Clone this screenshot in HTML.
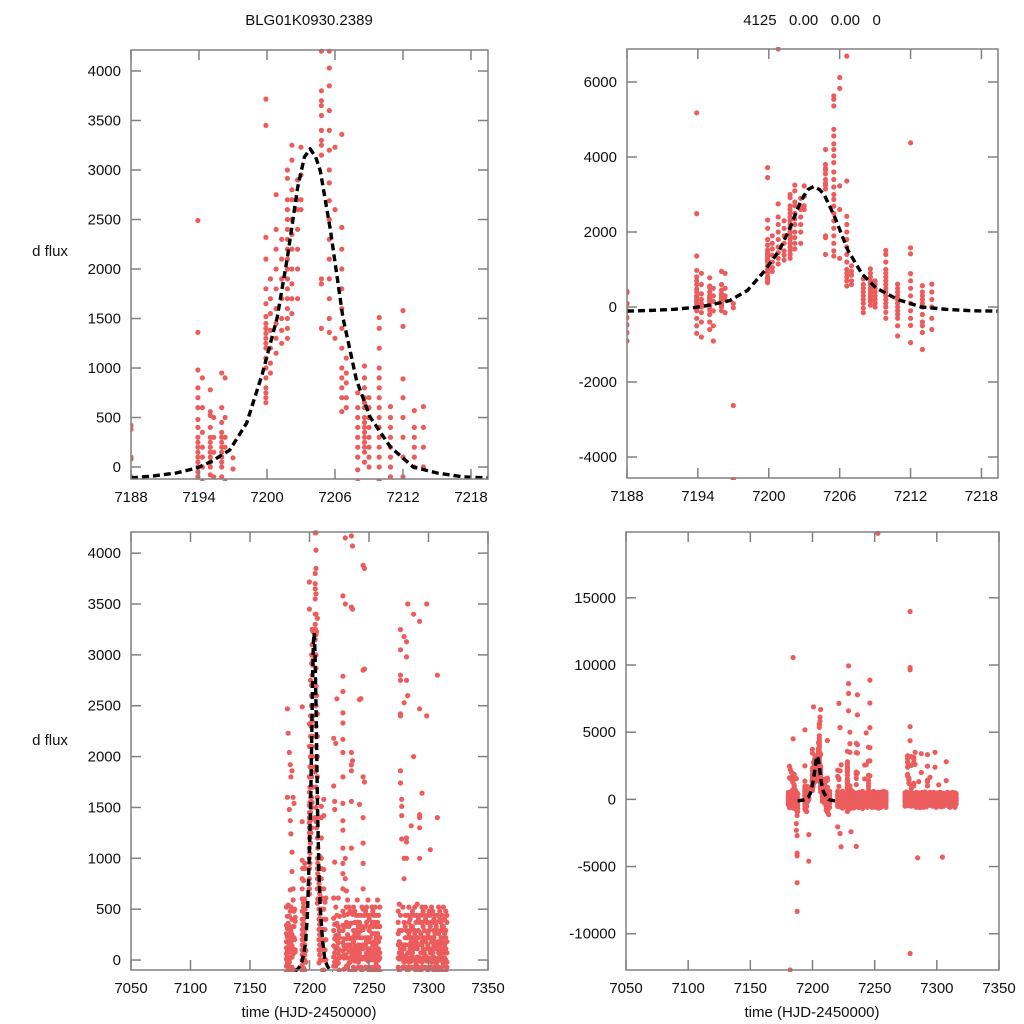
<!DOCTYPE html>
<html><head><meta charset="utf-8"><title>BLG01K0930.2389</title>
<style>
html,body{margin:0;padding:0;background:#fff;width:1024px;height:1024px;overflow:hidden;}
svg{display:block;font-family:"Liberation Sans",Arial,sans-serif;}
</style></head>
<body>
<svg id="chart" width="1024" height="1024" viewBox="0 0 1024 1024" xmlns="http://www.w3.org/2000/svg">
<rect width="1024" height="1024" fill="#fff"/>
<text x="309" y="25" font-size="15" text-anchor="middle" fill="#111">BLG01K0930.2389</text>
<text x="812" y="25" font-size="15" text-anchor="middle" fill="#111" xml:space="preserve">4125   0.00   0.00   0</text>
<text x="50" y="256" font-size="15" text-anchor="middle" fill="#111">d flux</text>
<text x="50" y="745" font-size="15" text-anchor="middle" fill="#111">d flux</text>
<text x="309" y="1017" font-size="15" text-anchor="middle" fill="#111">time (HJD-2450000)</text>
<text x="812" y="1017" font-size="15" text-anchor="middle" fill="#111">time (HJD-2450000)</text>
</svg>
<script>
// ---- data: observations grouped by night [time, [flux values]] ----
const preEventNights = [
 [7180.6,[120,-230,340,-410,60,-120,260,-330,10,520,-60,180]],
 [7181.4,[2470,1600,-140,230,-380,90,430,-620,40,-260,310,-30]],
 [7182.1,[-12700,2230,-70,190,-480,360,-210,540,-40,110,-330,250]],
 [7183.0,[2040,1480,-290,150,430,-560,80,-180,330,-90,210,-20]],
 [7183.9,[1920,1370,-150,220,-410,480,20,-260,140,690,-70,300]],
 [7184.4,[10560,4500,1800,1240,-110,280,-470,170,-220,520,-640,90]],
 [7185.3,[1860,1060,870,-70,250,-330,140,-510,400,30,-190]],
 [7186.2,[1600,700,-220,110,-380,330,-140,210,590,-700,60]],
 [7187.0,[1540,-1800,-2300,-150,220,-450,330,70,-300,480]],
 [7187.6,[-2700,-4000,-4200,-6200,-8340,-1200,-900,-500,200,500]],
 [7188.0,[420,100,381,80,-100,-284,-480,-684,-907]]
];
const eventNights = [
 [7193.9,[5180,2490,1360,980,800,700,600,480,400,300,250,200,150,100,50,0,-50,-100,-300,-500,-700]],
 [7194.3,[900,600,350,200,100,0,-150,-400,-800]],
 [7195.0,[780,560,520,400,300,250,200,150,100,50,0,-80,-200,-400,-600]],
 [7195.3,[500,300,150,-100,-500,-907]],
 [7196.0,[950,600,450,350,300,250,200,150,100,50,0,-100]],
 [7196.3,[900,500,300,200,-150]],
 [7197.0,[93,-20,-2626,-4602]],
 [7199.9,[3716,3450,2320,2100,1800,1650,1520,1450,1400,1350,1300,1250,1200,1100,1000,900,800,750,700,650]],
 [7200.3,[1900,1700,1550,1380,1200,1050,950]],
 [7200.8,[6880,2750,2400,2200,2000,1800,1600,1450,1300,1150]],
 [7201.3,[2300,2100,1900,1700,1500,1380,1250]],
 [7201.8,[3000,2916,2700,2600,2500,2400,2300,2200,2100,2000,1900,1800,1700,1600,1500,1400,1300]],
 [7202.2,[3250,3100,2800,2700,2500,2350,2200,2000,1850,1700,1550]],
 [7202.7,[2900,2700,2600,2400,2200,2000,1700]],
 [7203.0,[3230,2950,2700,2600]],
 [7204.8,[4200,3800,3700,3650,3550,3400,3300,3250,3150,1900,1850,1400]],
 [7205.5,[5630,5540,5360,4740,4560,4350,4200,4030,3850,3600,3400,3200,3000,2870,2690,2500,2300,2100,1900,1700,1500,1360]],
 [7206.0,[6120,5830,3230,2600,1300]],
 [7206.6,[6690,3360,2420,2200,2000,1800,1600,1400,1200,1000,900,800,700,560]],
 [7207.0,[1100,950,850,700,600]],
 [7208.0,[750,600,500,400,300,200,100,-28,-150]],
 [7208.6,[1020,900,800,700,650,600,500,450,400,350,300,250,200,150,50]],
 [7209.0,[700,600,500,400,300,200,100,0]],
 [7209.9,[1510,1400,1200,1000,900,800,700,600,500,400,300,200,100,0,-140,-300]],
 [7210.9,[610,500,400,300,200,100,0,-100,-200,-300,-500,-773]],
 [7212.0,[4380,1580,1420,890,700,500,300,100,-100,-300,-490,-950]],
 [7213.0,[570,400,300,200,100,0,-200,-400,-500,-680,-1130]],
 [7213.8,[610,400,200,0,-300,-600]]
];
const seasonNightsA = [
 [7220.3,[2180,1711,-2040,410,-230,140,-520,290,-60,610,-350,30]],
 [7221.2,[7140,1560,1480,963,-150,210,-430,70,350,-280,-20]],
 [7222.1,[5350,2130,-2540,-60,240,-390,520,-170,110,-260]],
 [7223.0,[2568,-3530,360,-210,130,-580,440,10,-320,190]],
 [7224.2,[610,-140,250,-470,60,330,-250,-660,170,-30]],
 [7225.1,[-350,430,-100,220,-520,100,290,-210,20]],
 [7228.1,[3580,2790,2640,2430,2330,2170,2040,1800,1540,1370,1277,1100,950,850,700,480,290,90,-150,-380,-620,-900,340,-240,40,170]],
 [7229.0,[9940,8620,7880,6590,-290,210,440,-510,20,140,-90]],
 [7230.1,[4150,3500,5000,1000,800,-220,330,-450,110,-690,50]],
 [7231.0,[-2410,520,-140,210,-360,370,-60,680,120]],
 [7232.0,[450,-290,150,-510,250,-70,590,-210,20]],
 [7233.1,[330,-180,80,-440,520,-30,220,-640,140]],
 [7234.0,[210,-370,480,-110,150,-250,360,-520,-20]],
 [7235.2,[4170,3470,2040,1918,1860,1560,1100,-3500,360,-290,110,-520,30]],
 [7236.1,[7780,6290,4070,3450,1960,220,-140,450,-370,60]],
 [7237.0,[520,-220,80,-440,290,-70,180,-600,10]],
 [7238.1,[370,-290,140,-510,480,-100,250,-180,-10]],
 [7239.0,[-220,290,-480,110,440,-360,40,220,-80]],
 [7240.2,[590,-140,250,-400,70,-670,370,-250,30]],
 [7241.1,[150,-330,440,-70,260,-510,110,330,-20]],
 [7242.0,[2560,1530,-220,370,-440,70,220,-140,20]],
 [7243.2,[4950,2570,290,-290,110,-480,440,-70,30]],
 [7244.1,[-370,220,-110,520,-220,150,-590,330,10]],
 [7245.0,[3880,2850,1800,1400,1150,950,700,500,300,-150,-370,110,20]],
 [7246.2,[8880,7170,5340,3850,2860,1750,-290,150,440,-440,30]],
 [7247.1,[220,-260,480,-70,150,-510,330,-180,10]],
 [7248.0,[-150,370,-370,70,520,-220,180,-590,30]],
 [7249.2,[440,-70,220,-440,110,-290,590,-180,-10]],
 [7250.1,[290,-220,70,-510,400,-110,180,-370,20]],
 [7251.0,[-290,220,-70,440,-180,110,-590,330,0]],
 [7252.6,[19800,370,-220,70,-370,260,-110,520,30]],
 [7253.2,[150,-440,330,-150,480,-260,70,-660,10]],
 [7254.0,[-70,370,-330,180,-510,440,0,-220,60]],
 [7255.1,[520,-180,260,-400,110,-70,370,-590,20]],
 [7256.0,[220,-290,440,-110,150,-480,330,-40,-10]],
 [7257.2,[-220,370,-70,260,-440,70,590,-330,30]],
 [7258.0,[330,-150,110,-510,440,-260,180,-70,0]],
 [7259.1,[70,-370,520,-180,220,-590,330,-110,20]]
];
const seasonNightsB = [
 [7274.5,[370,-220,150,-510,480,-70,260,-370,20]],
 [7275.5,[-150,290,-440,70,550,-290,180,-110,10]],
 [7276.5,[3248,3050,2800,2750,2420,2400,1860,1740,440,-220,110,-370,30]],
 [7277.5,[1580,1510,1420,1190,-150,290,-480,70,10]],
 [7278.5,[13980,9810,9640,5410,4370,-11470,520,-290,150,-70,20]],
 [7279.5,[3180,2530,1000,800,-220,370,-510,110,-20]],
 [7280.5,[-290,220,-70,440,-400,150,-180,330,40]],
 [7281.5,[3130,2980,2750,1200,1160,1000,-150,290,-440,20]],
 [7282.5,[3500,2600,440,-110,220,-510,70,-260,10]],
 [7283.5,[370,-220,150,-590,520,-70,260,-330,-20]],
 [7284.5,[-4350,290,-150,110,-440,400,-260,70,20]],
 [7285.5,[1320,220,-370,440,-70,180,-510,330,-10]],
 [7286.5,[-150,330,-290,70,480,-220,150,-620,30]],
 [7287.5,[3400,2000,440,-150,220,-440,110,-290,0]],
 [7288.5,[290,-180,520,-70,260,-510,150,-330,20]],
 [7289.5,[-110,370,-370,180,-220,440,-40,-590,10]],
 [7290.5,[440,-150,220,-480,110,-290,550,-70,30]],
 [7291.5,[-220,290,-70,400,-370,150,-550,220,-10]],
 [7292.5,[3330,2470,1430,1400,1300,1000,-150,370,20]],
 [7293.5,[150,-330,440,-110,260,-440,70,-220,10]],
 [7294.5,[1640,370,-220,150,-400,520,-70,180,-20]],
 [7295.5,[-180,220,-440,330,-70,480,-290,110,0]],
 [7296.5,[290,-260,70,-510,440,-150,220,-370,30]],
 [7297.5,[-70,400,-330,180,-220,520,-480,40,10]],
 [7298.5,[3500,2400,220,-180,370,-440,110,-290,-10]],
 [7299.5,[370,-110,260,-400,150,-590,440,-220,20]],
 [7300.5,[-150,290,-370,110,480,-70,220,-510,0]],
 [7301.5,[1085,220,-290,440,-180,70,-480,330,10]],
 [7302.5,[-220,370,-70,180,-440,520,-330,110,-20]],
 [7303.5,[220,-150,480,-370,70,-260,370,-550,30]],
 [7304.5,[-4300,290,-110,400,-290,150,-480,220,0]],
 [7305.5,[180,-370,440,-70,260,-510,110,-180,20]],
 [7306.5,[-110,330,-260,150,-440,370,-40,-330,10]],
 [7307.5,[2800,1400,440,-220,110,-370,290,-150,-10]],
 [7308.5,[260,-180,520,-330,70,-440,180,-70,20]],
 [7309.5,[-290,150,-110,400,-220,480,-510,70,0]],
 [7310.5,[370,-260,110,-400,290,-110,220,-590,30]],
 [7311.5,[-70,440,-220,180,-370,70,-480,330,-10]],
 [7312.5,[220,-440,330,-150,520,-290,110,-40,10]],
 [7313.5,[-180,260,-510,70,400,-220,150,-330,20]],
 [7314.5,[290,-110,220,-400,110,-590,480,-180,0]],
 [7315.5,[-150,370,-290,180,-70,440,-370,70,-20]]
];
// ---- model curve samples ----
const modelT = [7188,7190,7192,7193.8,7195,7196.7,7198.2,7199.6,7200.9,7201.8,7202.7,7203.3,7203.8,7204.3,7204.7,7205.6,7206.7,7207.9,7209.1,7210.9,7212.9,7215,7217.3,7219.5];
const modelF = [-110,-90,-60,-10,50,170,443,947,1511,2116,2821,3130,3214,3130,2992,2388,1511,877,504,201,0,-60,-100,-110];
// ---- tick labels ----
const ticksXZoom = [7188,7194,7200,7206,7212,7218];
const ticksXFull = [7050,7100,7150,7200,7250,7300,7350];
const ticksYTopLeft = [0,500,1000,1500,2000,2500,3000,3500,4000];
const ticksYTopRight = [-4000,-2000,0,2000,4000,6000];
const ticksYBotLeft = [0,500,1000,1500,2000,2500,3000,3500,4000];
const ticksYBotRight = [-10000,-5000,0,5000,10000,15000];

const panels = [
 {name:'zoom-clipped', x0:131,x1:488,y0:50,y1:479, xmin:7188,xmax:7219.5, ymin:-121,ymax:4212, xt:ticksXZoom, yt:ticksYTopLeft},
 {name:'zoom-full', x0:627,x1:998,y0:49,y1:478, xmin:7188,xmax:7219.4, ymin:-4560,ymax:6880, xt:ticksXZoom, yt:ticksYTopRight},
 {name:'season-clipped', x0:131,x1:488,y0:532,y1:970, xmin:7050,xmax:7350, ymin:-98,ymax:4208, xt:ticksXFull, yt:ticksYBotLeft},
 {name:'season-full', x0:626,x1:999,y0:532,y1:970, xmin:7050,xmax:7350, ymin:-12700,ymax:19900, xt:ticksXFull, yt:ticksYBotRight}
];
const NS='http://www.w3.org/2000/svg';
const svg=document.getElementById('chart');
function mk(tag,attrs,parent){const e=document.createElementNS(NS,tag);for(const k in attrs)e.setAttribute(k,attrs[k]);(parent||svg).appendChild(e);return e;}
const allNights=[...preEventNights,...eventNights,...seasonNightsA,...seasonNightsB];
const defs=mk('defs',{});
panels.forEach((p,pi)=>{
  const sx=t=>p.x0+(t-p.xmin)/(p.xmax-p.xmin)*(p.x1-p.x0);
  const sy=f=>p.y1-(f-p.ymin)/(p.ymax-p.ymin)*(p.y1-p.y0);
  const cp=mk('clipPath',{id:'clip'+pi},defs);
  mk('rect',{x:p.x0,y:p.y0-2,width:p.x1-p.x0,height:p.y1-p.y0+4},cp);
  const g=mk('g',{});
  
  
  const pts=mk('g',{'clip-path':'url(#clip'+pi+')',fill:'#ec5c5c'},g);
  
  
  allNights.forEach(n=>{
    const t=n[0]; if(t<p.xmin-0.3||t>p.xmax+0.3) return;
    n[1].forEach(f=>{
      const c=mk('circle',{cx:sx(t).toFixed(1),cy:sy(f).toFixed(1),r:2.6},pts);
      
      
    });
  });
  const d=modelT.map((t,i)=>(i?'L':'M')+sx(t).toFixed(1)+','+sy(modelF[i]).toFixed(1)).join(' ');
  const ml=mk('path',{d:d,fill:'none',stroke:'#000','stroke-width':3.4,'stroke-dasharray':'7,4','stroke-linejoin':'round','clip-path':'url(#clip'+pi+')'},g);
  
  
  const fr=mk('rect',{x:p.x0,y:p.y0,width:p.x1-p.x0,height:p.y1-p.y0,fill:'none',stroke:'#808080','stroke-width':1.5},g);
  
  
  p.xt.forEach(v=>{
    const x=sx(v);
    mk('line',{x1:x,y1:p.y1,x2:x,y2:p.y1-10,stroke:'#808080','stroke-width':1.5},g);
    mk('line',{x1:x,y1:p.y0,x2:x,y2:p.y0+10,stroke:'#808080','stroke-width':1.5},g);
    const tl=mk('text',{x:x,y:p.y1+23,'font-size':15,'text-anchor':'middle',fill:'#111'},g);
    tl.textContent=v;
    
    
  });
  p.yt.forEach(v=>{
    const y=sy(v);
    mk('line',{x1:p.x0,y1:y,x2:p.x0+10,y2:y,stroke:'#808080','stroke-width':1.5},g);
    mk('line',{x1:p.x1,y1:y,x2:p.x1-10,y2:y,stroke:'#808080','stroke-width':1.5},g);
    const tl=mk('text',{x:p.x0-10,y:y+5,'font-size':15,'text-anchor':'end',fill:'#111'},g);
    tl.textContent=v;
    
    
  });
});
</script>
</body></html>
